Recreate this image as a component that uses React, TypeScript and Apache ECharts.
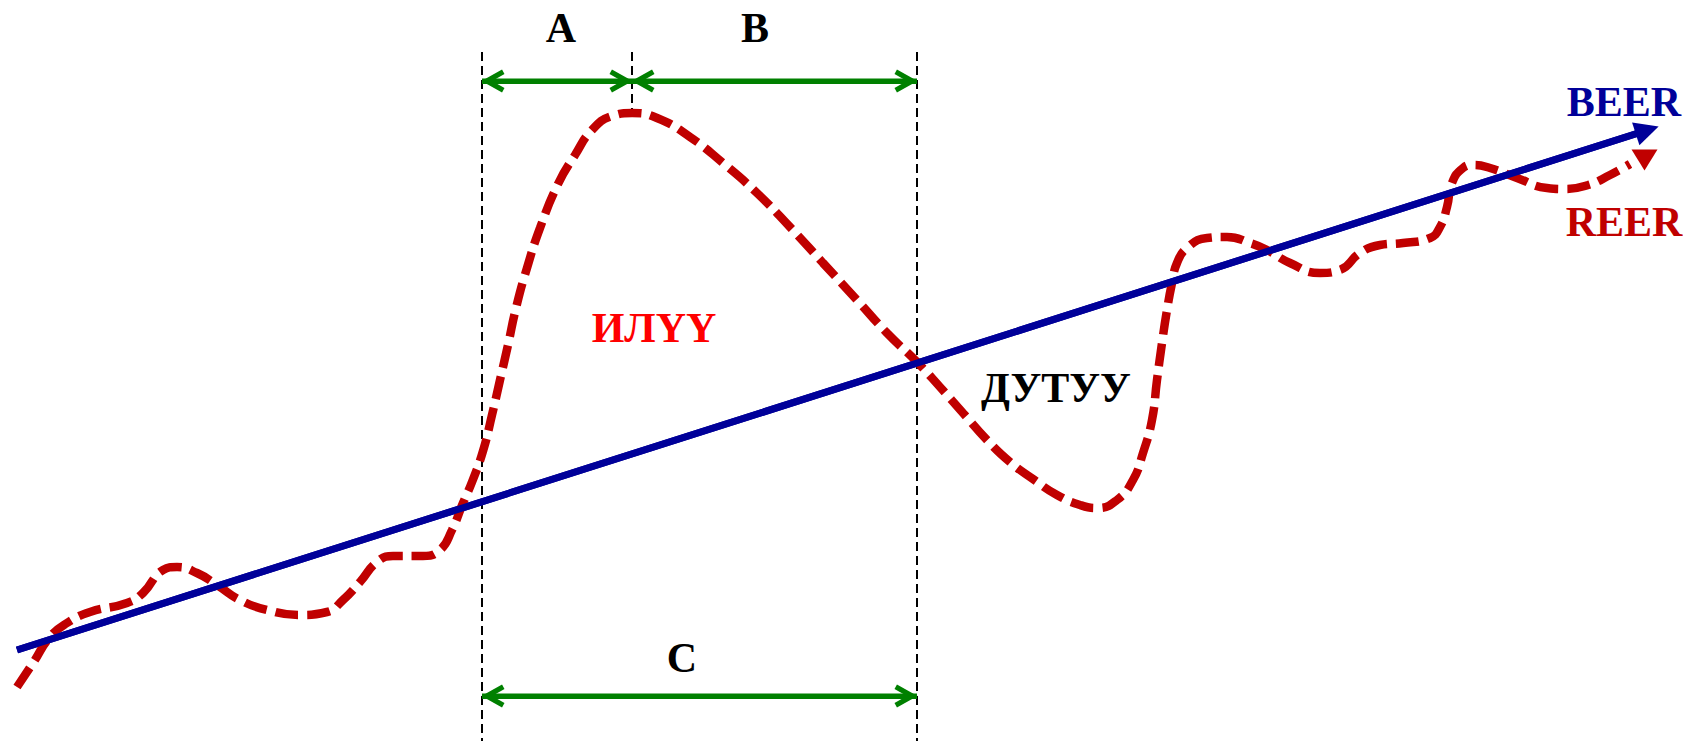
import React, { useEffect, useRef } from "react";
import * as echarts from "echarts";

const W = 1683;
const H = 741;

// BEER: straight equilibrium trend (start, end before arrow head)
const beerLine: number[][] = [
  [17, 650],
  [1651, 129],
];

// REER: dashed actual real exchange rate path
const reerCurve: number[][] = [
  [17, 687], [33, 663], [50, 637], [67, 623], [90, 612], [127, 603], [143, 593],
  [163, 570], [177, 567], [197, 573], [217, 585], [240, 600], [267, 610], [300, 615],
  [327, 612], [343, 600], [360, 582], [377, 562], [393, 556], [423, 556], [440, 550],
  [452, 530], [463, 503], [472, 482], [483, 451], [492, 415], [500, 380], [508, 345],
  [516, 308], [527, 268], [540, 228], [558, 184], [575, 155], [592, 130], [612, 116],
  [632, 113], [657, 118], [690, 137], [723, 163], [757, 193], [790, 227], [823, 263],
  [857, 300], [887, 333], [917, 362], [940, 387], [963, 413], [987, 440], [1010, 462],
  [1033, 479], [1057, 495], [1080, 505], [1097, 508], [1117, 500], [1133, 480], [1143, 453],
  [1152, 420], [1157, 380], [1162, 343], [1167, 310], [1172, 283], [1177, 263],
  [1187, 248], [1207, 238], [1227, 237], [1250, 243], [1267, 250], [1290, 263],
  [1320, 273], [1340, 270], [1360, 253], [1380, 245], [1403, 243], [1430, 238],
  [1440, 227], [1447, 207], [1452, 183], [1463, 168], [1473, 165], [1490, 168],
  [1517, 178], [1547, 188], [1565, 189], [1588, 185], [1610, 175], [1630, 164],
];
const reerArrowHead: number[][] = [[1644.5, 160]];

// vertical dashed period dividers: [x, top, bottom]
const dividerX = [482, 632, 917];
const dividerTop = [52, 52, 52];
const dividerBottom = [741, 110, 741];

// green double-headed span arrows
const spanA: number[][] = [[482, 81], [632, 81]];
const spanB: number[][] = [[632, 81], [917, 81]];
const spanC: number[][] = [[482, 696], [917, 696]];

// text labels
const labelTexts = ["A", "B", "C", "BEER", "REER", "ИЛҮҮ", "ДУТУУ"];
const labelPos: number[][] = [
  [561, 28], [755, 28], [682, 658], [1624, 102], [1624, 222], [654, 328], [1056, 388],
];
const labelColors = ["#000000", "#000000", "#000000", "#000099", "#C00000", "#FF0000", "#000000"];

const NAVY = "#000099";
const RED = "#C00000";
const GREEN = "#008000";
const FONT = '"Liberation Serif", "DejaVu Serif", "Times New Roman", serif';
const CHEVRON = "path://M11,0 L22,20 L17.6,22.4 L11,10.4 L4.4,22.4 L0,20 Z";

function spanSeries(name: string, pts: number[][]) {
  return {
    name,
    type: "line",
    data: pts,
    showSymbol: false,
    symbol: "none",
    silent: true,
    lineStyle: { color: GREEN, width: 5 },
    markLine: {
      silent: true,
      animation: false,
      symbol: [CHEVRON, CHEVRON],
      symbolSize: [23, 23],
      symbolOffset: [[0, 11], [0, 11]],
      label: { show: false },
      emphasis: { disabled: true },
      lineStyle: { color: GREEN, width: 5, type: "solid" },
      itemStyle: { color: GREEN },
      data: [[{ coord: pts[0] }, { coord: pts[1] }]],
    },
  };
}

export default function App() {
  const ref = useRef<HTMLDivElement>(null);
  useEffect(() => {
    document.body.style.margin = "0";
    const chart = echarts.init(ref.current!, null, { renderer: "svg" });

    const dividerSeries = dividerX.map((x, i) => ({
      name: "divider" + i,
      type: "line",
      data: [[x, dividerTop[i]], [x, dividerBottom[i]]],
      showSymbol: false,
      symbol: "none",
      silent: true,
      lineStyle: { color: "#000000", width: 2, type: [9, 5] },
    }));

    const option: any = {
      animation: false,
      backgroundColor: "#ffffff",
      grid: { left: 0, right: 0, top: 0, bottom: 0, containLabel: false },
      xAxis: { type: "value", min: 0, max: W, show: false },
      yAxis: { type: "value", min: 0, max: H, inverse: true, show: false },
      series: [
        ...dividerSeries,
        spanSeries("A", spanA),
        spanSeries("B", spanB),
        spanSeries("C", spanC),
        {
          name: "BEER",
          type: "line",
          data: beerLine,
          showSymbol: false,
          symbol: "none",
          silent: true,
          lineStyle: { color: NAVY, width: 7 },
          markLine: {
            silent: true,
            animation: false,
            symbol: ["none", "triangle"],
            symbolSize: [24, 24],
            symbolOffset: [[0, 0], [0, 4]],
            label: { show: false },
            emphasis: { disabled: true },
            lineStyle: { color: NAVY, width: 7, type: "solid" },
            itemStyle: { color: NAVY },
            data: [[{ coord: beerLine[0] }, { coord: beerLine[1] }]],
          },
        },
        {
          name: "REER",
          type: "line",
          data: reerCurve,
          smooth: 0.5,
          showSymbol: false,
          symbol: "none",
          silent: true,
          lineStyle: { color: RED, width: 8.5, type: [23, 9], cap: "butt" },
        },
        {
          name: "REER arrow",
          type: "scatter",
          data: reerArrowHead,
          symbol: "triangle",
          symbolSize: [26, 21],
          symbolRotate: 180,
          silent: true,
          itemStyle: { color: RED, opacity: 1 },
        },
      ],
      graphic: labelTexts.map((t, i) => ({
        type: "text",
        x: labelPos[i][0],
        y: labelPos[i][1],
        silent: true,
        style: {
          text: t,
          fill: labelColors[i],
          fontFamily: FONT,
          fontWeight: "bold",
          fontSize: 42,
          textAlign: "center",
          textVerticalAlign: "middle",
        },
      })),
    };

    chart.setOption(option);
    return () => chart.dispose();
  }, []);

  return <div ref={ref} style={{ width: W, height: H, background: "#ffffff" }} />;
}
